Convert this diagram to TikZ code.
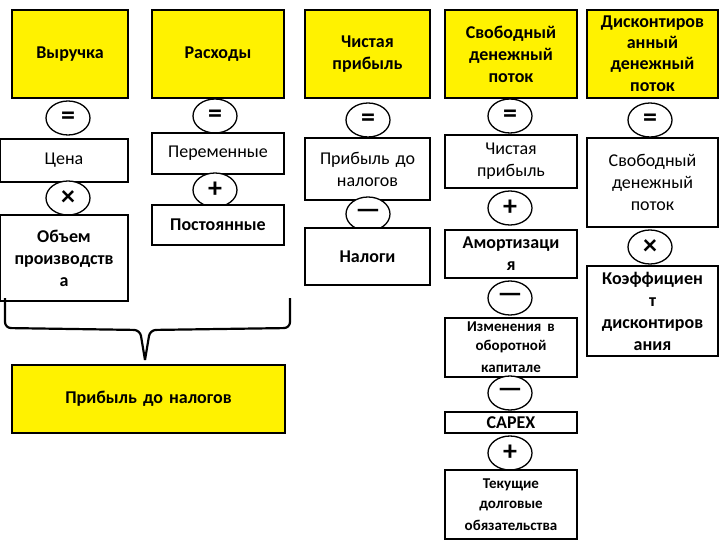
\documentclass[tikz,border=0pt]{standalone}
\usepackage{fontspec}
\setmainfont{Carlito}
\usetikzlibrary{shapes.geometric,decorations.pathreplacing}
\begin{document}
\begin{tikzpicture}[x=1pt,y=-1pt,
  base/.style={draw=black,line width=1.3pt,inner sep=1pt,align=center,font=\bfseries\fontsize{18}{22}\selectfont},
  ybox/.style={base,fill=yellow},
  wbox/.style={base,fill=white},
  op/.style={ellipse,draw=black,line width=1.3pt,fill=white,minimum width=44pt,minimum height=34pt,inner sep=0pt,font=\bfseries\fontsize{28}{28}\selectfont}]
\useasboundingbox (0,0) rectangle (720,540);
\newcommand{\bx}[7]{\node[#1,minimum width=#4-#3,minimum height=#6-#5,text width=#4-#3-4] (#2) at ({(#3+#4)/2},{(#5+#6)/2}) {#7};}
% top row
\bx{ybox}{t1}{12}{128}{10}{98}{Выручка}
\bx{ybox}{t2}{152}{284}{10}{98}{Расходы}
\bx{ybox}{t3}{305}{430}{10}{98}{Чистая\\прибыль}
\bx{ybox}{t4}{445}{577}{10}{98}{Свободный\\денежный\\поток}
\bx{ybox}{t5}{587}{718}{10}{98}{\fontsize{18}{21}\selectfont Дисконтиров\\анный\\денежный\\поток}
% col 1
\node[op] (e1) at (68,118) {=};
\bx{wbox}{c1a}{0}{128}{139}{182}{\mdseries Цена}
\node[op] (m1) at (68,198) {×};
\bx{wbox}{c1b}{0}{128}{215}{301}{Объем\\производств\\а}
% col 2
\node[op] (e2) at (215,116) {=};
\bx{wbox}{c2a}{152}{284}{133}{174}{\mdseries Переменные}
\node[op] (p2) at (215,190) {+};
\bx{wbox}{c2b}{152}{284}{205}{245}{Постоянные}
% col 3
\node[op] (e3) at (368,120) {=};
\bx{wbox}{c3a}{305}{430}{138}{200}{\mdseries Прибыль до\\налогов}
\node[op] (s3) at (368,214) {—};
\bx{wbox}{c3b}{305}{430}{228}{285}{Налоги}
% col 4
\node[op] (e4) at (510,116) {=};
\bx{wbox}{c4a}{445}{577}{135}{188}{\mdseries Чистая\\прибыль}
\node[op] (p4) at (510,208) {+};
\bx{wbox}{c4b}{445}{577}{230}{278}{Амортизаци\\я}
\node[op] (s4) at (510,298) {—};
\bx{wbox}{c4c}{445}{577}{318}{377}{\fontsize{15}{19}\selectfont Изменения в\\оборотной\\капитале}
\node[op] (s4b) at (510,393) {—};
\bx{wbox}{c4d}{445}{577}{412}{433}{CAPEX}
\node[op] (p4b) at (510,453) {+};
\bx{wbox}{c4e}{445}{577}{470}{539}{\fontsize{15}{20}\selectfont Текущие\\долговые\\обязательства}
% col 5
\node[op] (e5) at (650,120) {=};
\bx{wbox}{c5a}{587}{718}{138}{227}{\mdseries Свободный\\денежный\\поток}
\node[op] (m5) at (650,247) {×};
\bx{wbox}{c5b}{587}{718}{266}{356}{Коэффициен\\т\\дисконтиров\\ания}
% brace and result
\bx{ybox}{res}{12}{285}{365}{433}{Прибыль до налогов}
\coordinate (bl) at (5,298);
\coordinate (br) at (290,298);
\draw[line width=2.2pt,rounded corners=6pt] (bl) -- (5,328) -- (140,330) -- (145,360);
\draw[line width=2.2pt,rounded corners=6pt] (br) -- (290,328) -- (150,330) -- (145,360);
\end{tikzpicture}
\end{document}
